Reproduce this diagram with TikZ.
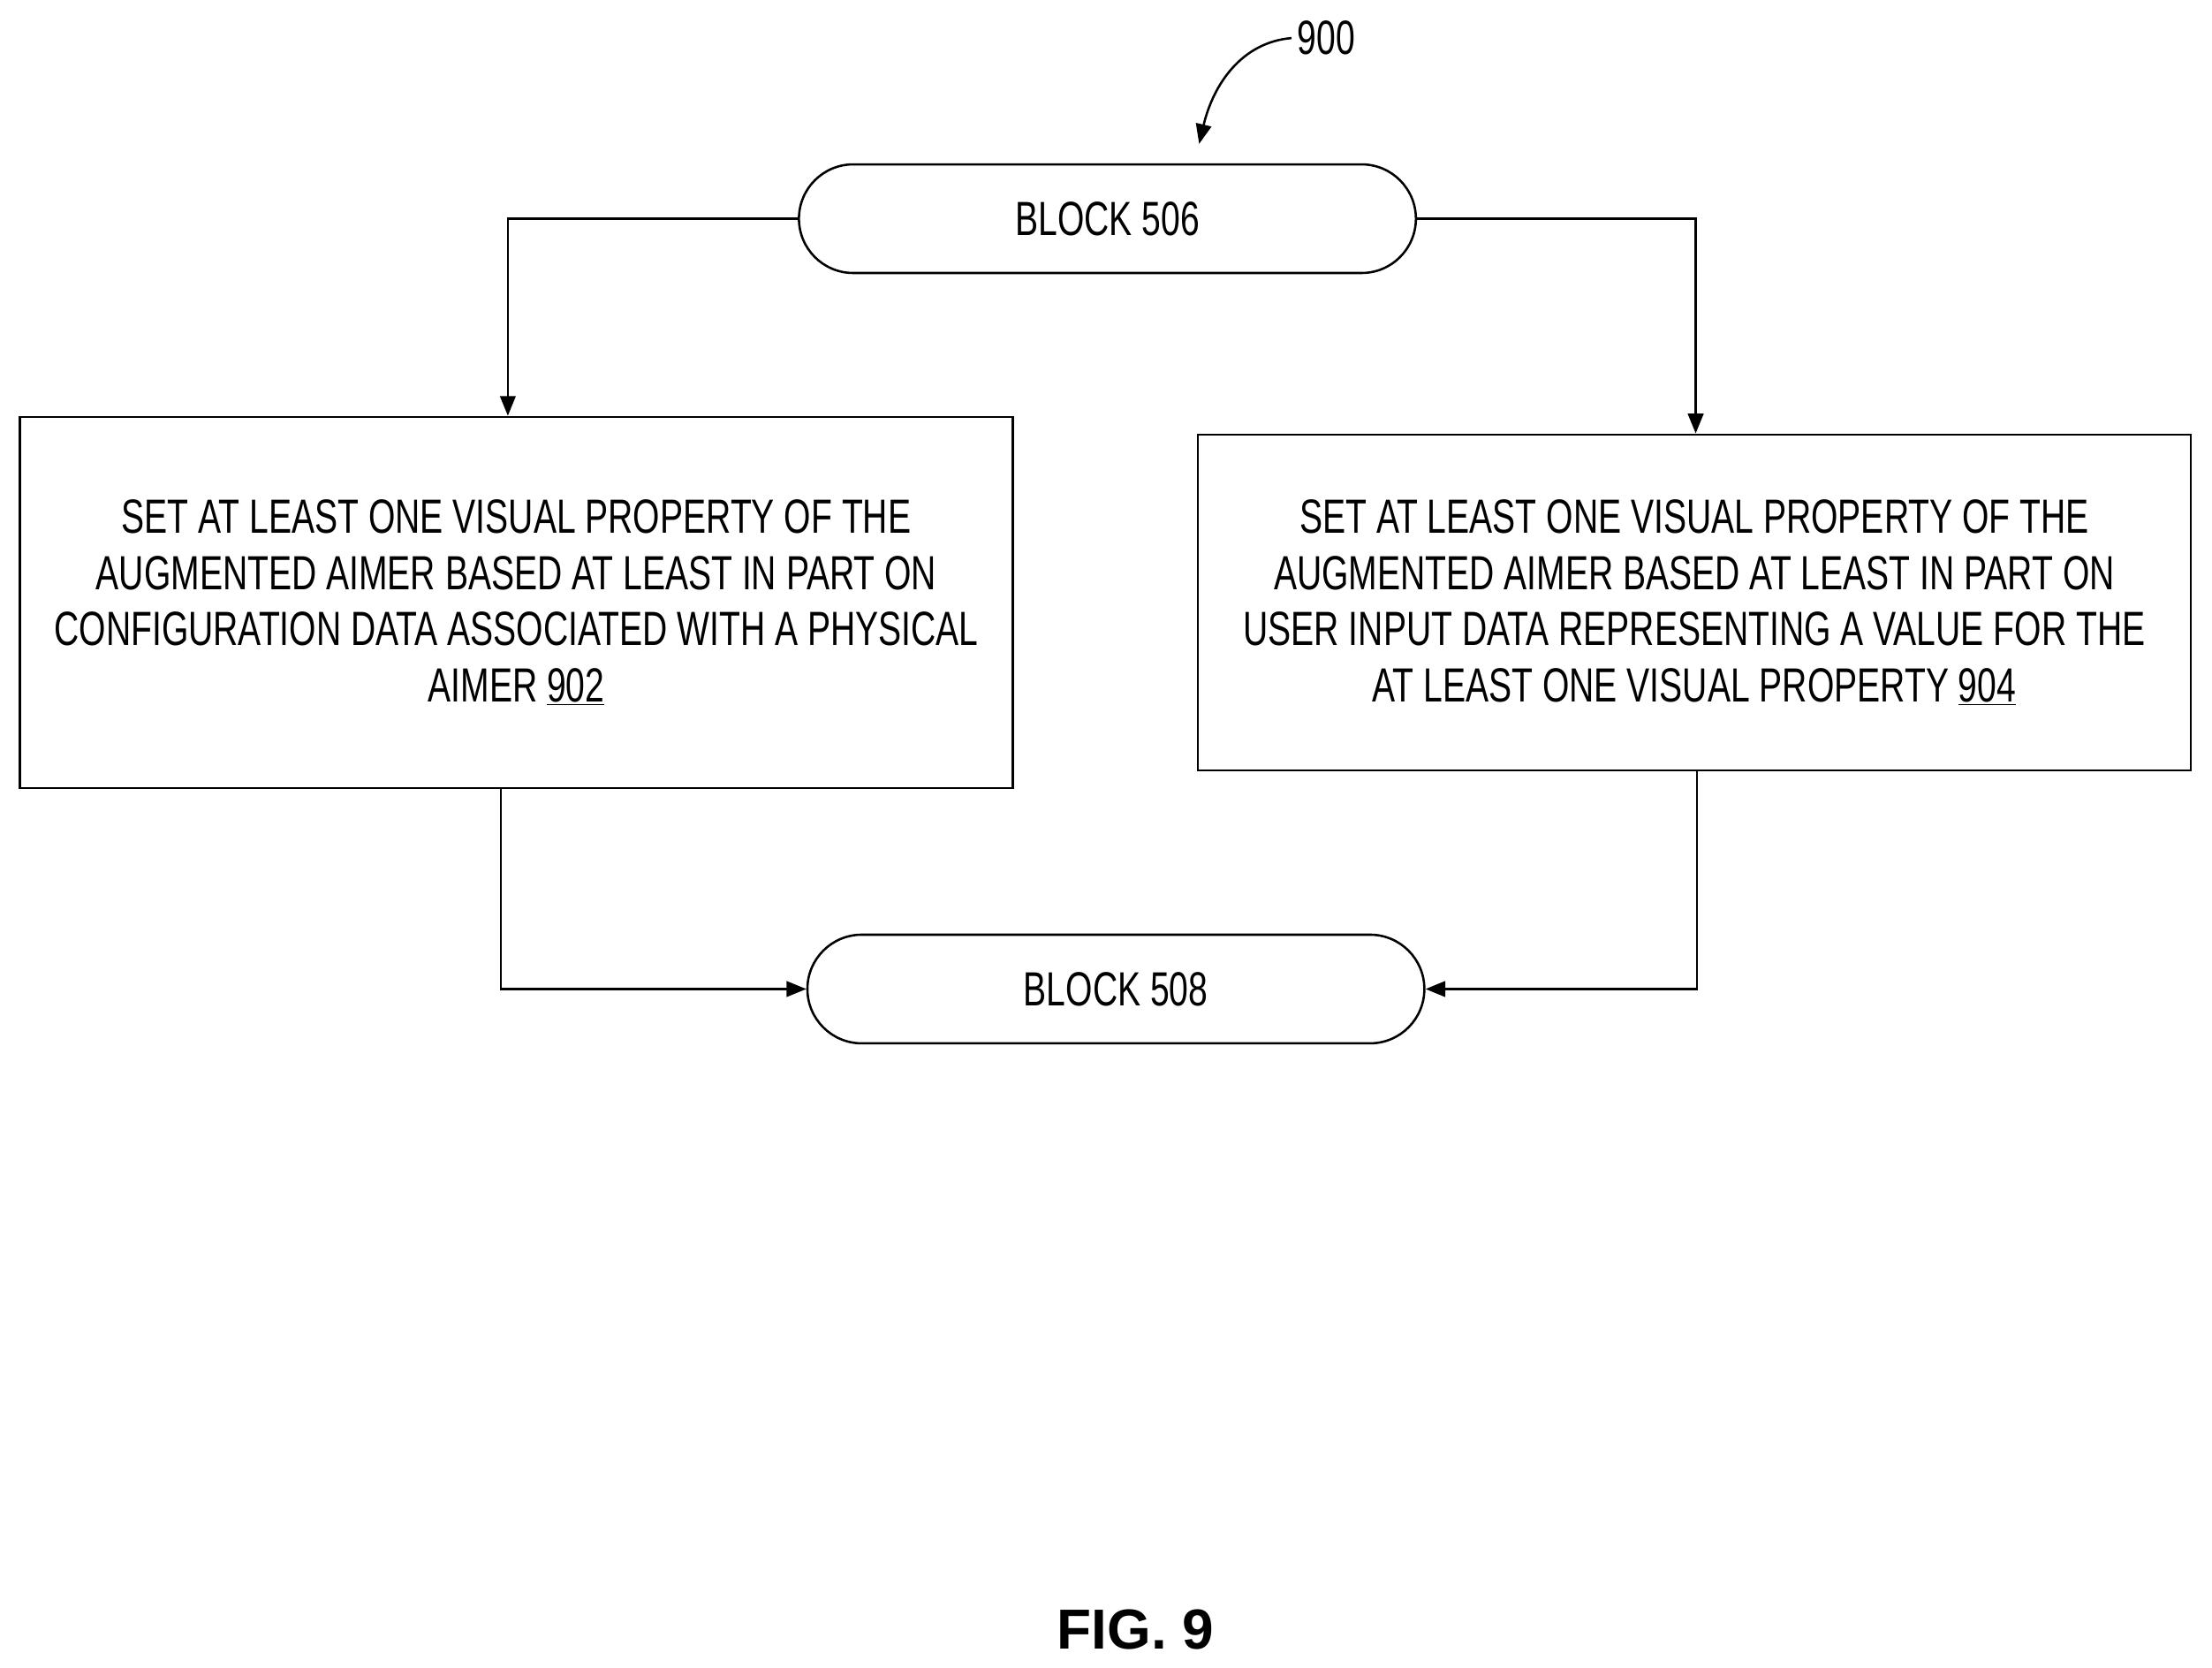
\documentclass[tikz,border=0pt]{standalone}
\usepackage{fontspec}
\setmainfont{Liberation Sans}[FakeStretch=0.72]
\newfontfamily\figfont{Liberation Sans}
\usetikzlibrary{arrows.meta}
\usetikzlibrary{shapes.misc}
\begin{document}
\begin{tikzpicture}[x=1pt, y=-1pt, >={Triangle[length=14pt,width=11pt]}, line width=1.6pt]
  \tikzstyle{term}=[rounded rectangle, draw, minimum width=444pt, minimum height=77pt, font=\fontsize{34}{40}\selectfont]
  \tikzstyle{action}=[rectangle, draw, align=center, font=\fontsize{34}{40}\selectfont]
  \useasboundingbox (0,0) rectangle (1568,1182);

	\node[term] (B506) at (785,155) {BLOCK 506};
	\node[term] (B508) at (791,701) {BLOCK 508};
	\node[action, minimum width=704pt, minimum height=263pt] (S902) at (366,427) {SET AT LEAST ONE VISUAL PROPERTY OF THE\\AUGMENTED AIMER BASED AT LEAST IN PART ON\\CONFIGURATION DATA ASSOCIATED WITH A PHYSICAL\\AIMER \underline{902}};
	\node[action, minimum width=704pt, minimum height=238pt] (S904) at (1201,427) {SET AT LEAST ONE VISUAL PROPERTY OF THE\\AUGMENTED AIMER BASED AT LEAST IN PART ON\\USER INPUT DATA REPRESENTING A VALUE FOR THE\\AT LEAST ONE VISUAL PROPERTY \underline{904}};
	\node[font=\fontsize{34}{40}\selectfont] (L900) at (940,27) {900};
	\node[font=\figfont\bfseries\fontsize{40}{44}\selectfont] (FIG) at (805,1155) {FIG. 9};

	\draw[->] (L900.west) .. controls (880,30) and (860,60) .. (850,102);
	\draw[->] (B506.west) -| (S902.north -| 360,0);
	\draw[->] (B506.east) -| (S904.north -| 1202,0);
	\draw[->] (S902.south -| 355,0) |- (B508.west);
	\draw[->] (S904.south -| 1203,0) |- (B508.east);

\end{tikzpicture}
\end{document}
